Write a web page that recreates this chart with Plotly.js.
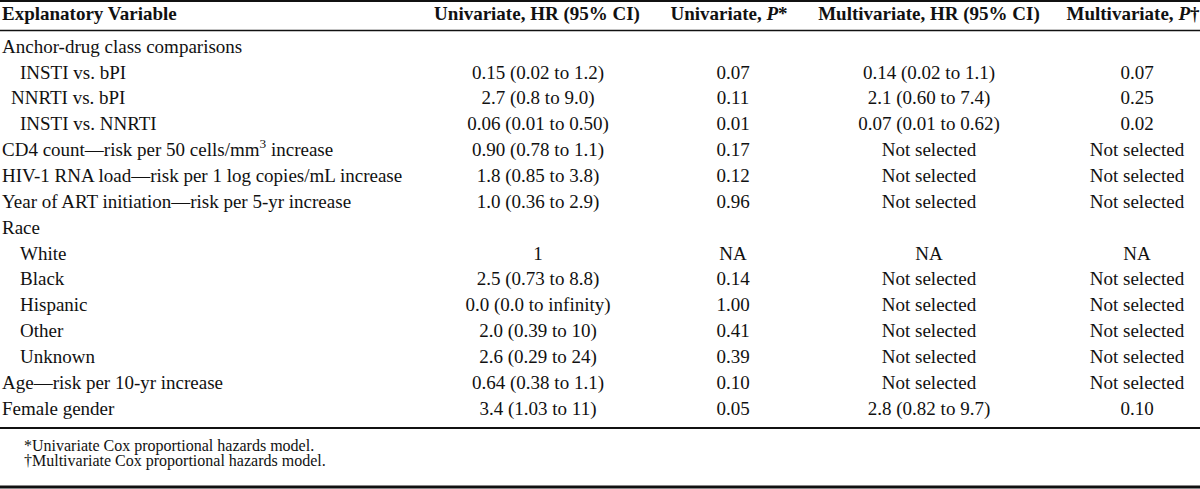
<!DOCTYPE html>
<html><head><meta charset="utf-8">
<script src="https://cdn.plot.ly/plotly-3.0.1.min.js"></script>
<style>html,body{margin:0;padding:0;background:#fff;overflow:hidden}</style>
</head><body><div id="chart" style="width:1200px;height:489px"></div>
<script>
// ---- table content ----
const headers = ["<b>Explanatory Variable</b>", "<b>Univariate, HR (95% CI)</b>", "<b>Univariate, <i>P</i>*</b>", "<b>Multivariate, HR (95% CI)</b>", "<b>Multivariate, <i>P</i>†</b>"];
const variables = [
  "Anchor-drug class comparisons",
  "INSTI vs. bPI",
  "NNRTI vs. bPI",
  "INSTI vs. NNRTI",
  "CD4 count—risk per 50 cells/mm<sup>3</sup> increase",
  "HIV-1 RNA load—risk per 1 log copies/mL increase",
  "Year of ART initiation—risk per 5-yr increase",
  "Race",
  "White",
  "Black",
  "Hispanic",
  "Other",
  "Unknown",
  "Age—risk per 10-yr increase",
  "Female gender"
];
const indentLevel = [0, 2, 1, 2, 0, 0, 0, 0, 2, 2, 2, 2, 2, 0, 0];
const uniHR = ["", "0.15 (0.02 to 1.2)", "2.7 (0.8 to 9.0)", "0.06 (0.01 to 0.50)", "0.90 (0.78 to 1.1)", "1.8 (0.85 to 3.8)", "1.0 (0.36 to 2.9)", "", "1", "2.5 (0.73 to 8.8)", "0.0 (0.0 to infinity)", "2.0 (0.39 to 10)", "2.6 (0.29 to 24)", "0.64 (0.38 to 1.1)", "3.4 (1.03 to 11)"];
const uniP = ["", "0.07", "0.11", "0.01", "0.17", "0.12", "0.96", "", "NA", "0.14", "1.00", "0.41", "0.39", "0.10", "0.05"];
const multiHR = ["", "0.14 (0.02 to 1.1)", "2.1 (0.60 to 7.4)", "0.07 (0.01 to 0.62)", "Not selected", "Not selected", "Not selected", "", "NA", "Not selected", "Not selected", "Not selected", "Not selected", "Not selected", "2.8 (0.82 to 9.7)"];
const multiP = ["", "0.07", "0.25", "0.02", "Not selected", "Not selected", "Not selected", "", "NA", "Not selected", "Not selected", "Not selected", "Not selected", "Not selected", "0.10"];
const footnotes = ["*Univariate Cox proportional hazards model.", "†Multivariate Cox proportional hazards model."];

// ---- layout constants (pixels) ----
const W = 1200, H = 489;
const ROW0 = 48, ROWH = 25.86;
const toRow = p => (p - ROW0) / ROWH;
const FONT = "Liberation Serif, Times New Roman, serif";
const BODY = 19, FOOT = 16;
const colX = [2, 538, 733, 929, 1137];
const headX = [2, 537, 729, 929, 1133];
const INDENT = 9;
const ink = "#111";

const rows = variables.map((_, i) => i);
const traces = [];

// header
traces.push({
  type: "scatter", mode: "text", x: [headX[0]], y: [toRow(15.5)], text: [headers[0]],
  textposition: "middle right", textfont: {family: FONT, size: BODY, color: ink}, hoverinfo: "skip"
});
traces.push({
  type: "scatter", mode: "text", x: headX.slice(1), y: headX.slice(1).map(() => toRow(15.5)), text: headers.slice(1),
  textposition: "middle center", textfont: {family: FONT, size: BODY, color: ink}, hoverinfo: "skip"
});
// first column
traces.push({
  type: "scatter", mode: "text", x: indentLevel.map(l => colX[0] + l * INDENT), y: rows, text: variables,
  textposition: "middle right", textfont: {family: FONT, size: BODY, color: ink}, hoverinfo: "skip"
});
// value columns (skip empty cells)
[uniHR, uniP, multiHR, multiP].forEach((col, k) => {
  const idx = rows.filter(i => col[i] !== "");
  traces.push({
    type: "scatter", mode: "text", x: idx.map(() => colX[k + 1]), y: idx, text: idx.map(i => col[i]),
    textposition: "middle center", textfont: {family: FONT, size: BODY, color: ink}, hoverinfo: "skip"
  });
});
// footnotes
traces.push({
  type: "scatter", mode: "text", x: footnotes.map(() => 24), y: [toRow(446.5), toRow(462)], text: footnotes,
  textposition: "middle right", textfont: {family: FONT, size: FOOT, color: ink}, hoverinfo: "skip"
});

const hline = (p, w) => ({type: "line", xref: "paper", yref: "y", x0: 0, x1: 1, y0: toRow(p), y1: toRow(p), line: {color: "#111", width: w}});

const layout = {
  width: W, height: H,
  margin: {l: 0, r: 0, t: 0, b: 0, pad: 0},
  paper_bgcolor: "#fff", plot_bgcolor: "#fff",
  showlegend: false,
  xaxis: {range: [0, W], visible: false, fixedrange: true},
  yaxis: {range: [toRow(H), toRow(0)], visible: false, fixedrange: true},
  shapes: [hline(1, 2), hline(30.5, 1.5), hline(428, 2), hline(487, 3)]
};

Plotly.newPlot("chart", traces, layout, {staticPlot: true, displayModeBar: false});
</script>
</body></html>
